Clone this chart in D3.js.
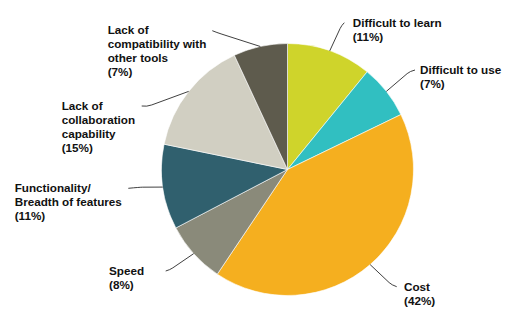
<!DOCTYPE html>
<html>
<head>
<meta charset="utf-8">
<script src="https://cdn.jsdelivr.net/npm/d3@7/dist/d3.min.js"></script>
<style>
  html, body { margin: 0; padding: 0; background: #fff; }
  svg { display: block; }
  text { font-family: "Liberation Sans", Arial, sans-serif; font-weight: bold; fill: #111; }
</style>
</head>
<body>
<svg id="chart" width="519" height="326"></svg>
<script>
// Survey responses: biggest obstacles (clockwise from 12 o'clock)
const categories = [
  "Difficult to learn",
  "Difficult to use",
  "Cost",
  "Speed",
  "Functionality/ Breadth of features",
  "Lack of collaboration capability",
  "Lack of compatibility with other tools"
];
const values = [11, 7, 42, 8, 11, 15, 7];
const labelLines = [
  ["Difficult to learn"],
  ["Difficult to use"],
  ["Cost"],
  ["Speed"],
  ["Functionality/", "Breadth of features"],
  ["Lack of", "collaboration", "capability"],
  ["Lack of", "compatibility with", "other tools"]
];
const colors = ["#cfd42b", "#31bfc1", "#f5af1f", "#8a8a7a", "#30606e", "#d1cfc2", "#5e5b4d"];

// Label block placement (left x, first baseline) and leader start / bend points
const labelLayout = [
  { x: 352.7, y: 26.7, s: [344.3, 22.7], b: [341.5, 25.5] },
  { x: 420,   y: 74,   s: [415, 70],     b: [410, 71.2] },
  { x: 404,   y: 290.7, s: [396.7, 286.7], b: [391.7, 285] },
  { x: 109,   y: 275,  s: [165.7, 271],  b: [170, 269.8] },
  { x: 14.7,  y: 192.3, s: [128.3, 188.3], b: [140, 187.2] },
  { x: 61.7,  y: 110,  s: [141.7, 106],  b: [146.7, 106.8] },
  { x: 107.7, y: 34.3, s: [212.3, 30.7], b: [216.7, 32.5] }
];
const lineStep = 14;

const svg = d3.select("#chart");
const cx = 287.5, cy = 169.5, radius = 126;

const data = categories.map((c, i) => ({ category: c, value: values[i], i }));
const pie = d3.pie().value(d => d.value).sort(null);
const arcs = pie(data);
const arc = d3.arc().innerRadius(0).outerRadius(radius);

const g = svg.append("g").attr("transform", `translate(${cx},${cy})`);

g.selectAll("path.slice")
  .data(arcs)
  .enter().append("path")
  .attr("class", "slice")
  .attr("d", arc)
  .attr("fill", d => colors[d.data.i])
  .attr("stroke", "#ffffff")
  .attr("stroke-width", 0.6);

// Leader lines: from label to the outer edge of each slice at its mid-angle
const leaders = svg.append("g");
arcs.forEach(a => {
  const L = labelLayout[a.data.i];
  const mid = (a.startAngle + a.endAngle) / 2;
  const ex = cx + radius * Math.sin(mid);
  const ey = cy - radius * Math.cos(mid);
  const [sx, sy] = L.s;
  const [bx, by] = L.b;
  const px = bx + (ex - bx) * 0.12, py = by + (ey - by) * 0.12;
  leaders.append("path")
    .attr("d", `M${sx},${sy} Q${bx},${by} ${px},${py} L${ex},${ey}`)
    .attr("fill", "none")
    .attr("stroke", "#2a2a2a")
    .attr("stroke-width", 0.9);
});

// Labels
const labels = svg.append("g");
data.forEach(d => {
  const L = labelLayout[d.i];
  const lines = labelLines[d.i].concat([`(${d.value}%)`]);
  const t = labels.append("text")
    .attr("x", L.x)
    .attr("y", L.y)
    .style("font-size", "11.7px");
  lines.forEach((ln, k) => {
    t.append("tspan")
      .attr("x", L.x)
      .attr("y", L.y + k * lineStep)
      .text(ln);
  });
});
</script>
</body>
</html>
